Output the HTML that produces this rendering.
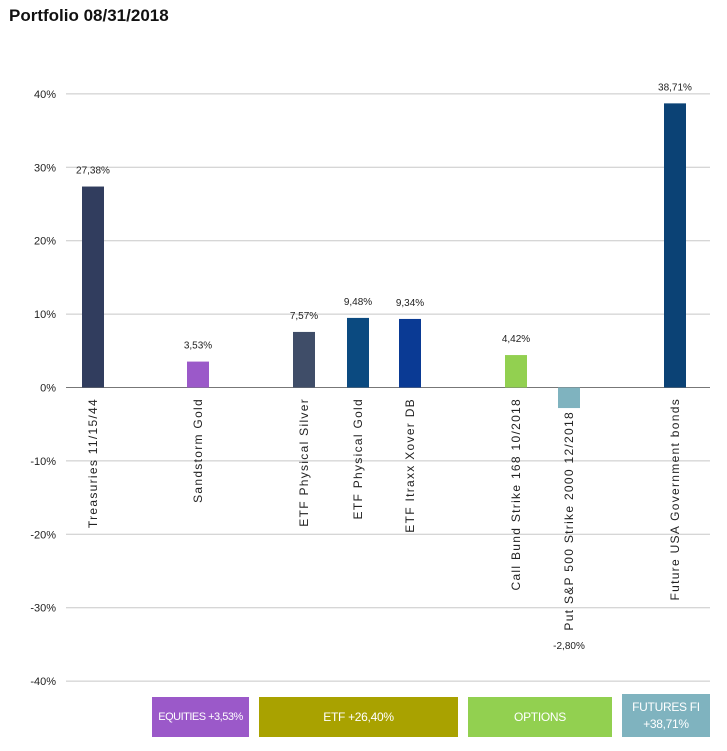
<!DOCTYPE html>
<html><head><meta charset="utf-8"><style>
body{margin:0;background:#fff;font-family:"Liberation Sans",sans-serif;}
#wrap{position:relative;width:727px;height:751px;overflow:hidden}
.title{position:absolute;left:9px;top:6px;font-size:17px;font-weight:bold;color:#111}
.box{position:absolute;color:#fff;font-size:12px;display:flex;align-items:center;justify-content:center;text-align:center;font-family:"Liberation Sans Narrow","Liberation Sans",sans-serif;line-height:17px;white-space:nowrap;letter-spacing:-0.3px}
</style></head><body>
<div id="wrap">
<div class="title">Portfolio 08/31/2018</div>
<svg id="chart" width="727" height="751" style="position:absolute;left:0;top:0"></svg>
<div class="box" style="left:152px;top:697px;width:97px;height:40px;background:#9b59c9;font-size:11px;letter-spacing:-0.5px">EQUITIES +3,53%</div>
<div class="box" style="left:259px;top:697px;width:199px;height:40px;background:#a9a200">ETF +26,40%</div>
<div class="box" style="left:468px;top:697px;width:144px;height:40px;background:#92d050">OPTIONS</div>
<div class="box" style="left:622px;top:694px;width:88px;height:43px;background:#7fb3bf">FUTURES FI<br>+38,71%</div>
</div>
<script>
const categories=["Treasuries 11/15/44","Sandstorm Gold","ETF Physical Silver","ETF Physical Gold","ETF Itraxx Xover DB","Call Bund Strike 168 10/2018","Put S&P 500 Strike 2000 12/2018","Future USA Government bonds"];
const values=[27.38,3.53,7.57,9.48,9.34,4.42,-2.80,38.71];
const valueLabels=["27,38%","3,53%","7,57%","9,48%","9,34%","4,42%","-2,80%","38,71%"];
const colors=["#313d5e","#9b59c9","#3f4d68","#0b4a80","#0a3a94","#92d050","#7fb3bf","#0b4275"];
const ticks=[40,30,20,10,0,-10,-20,-30,-40];
const tickLabels=["40%","30%","20%","10%","0%","-10%","-20%","-30%","-40%"];
const NS="http://www.w3.org/2000/svg";
const svg=document.getElementById('chart');
const y0=387.5, pxPer=7.34;
function y(v){return y0-v*pxPer;}
const barX=[93,198,304,358,410,516,569,675];
function x(i){return barX[i];}
function mk(t,a){const e=document.createElementNS(NS,t);for(const k in a)e.setAttribute(k,a[k]);svg.appendChild(e);return e;}
ticks.forEach((t,i)=>{
 const l=mk('line',{x1:66,x2:710,y1:y(t),y2:y(t),stroke:t===0?'#777':'#c8c8c8','stroke-width':1});
 
 
 const tx=mk('text',{x:56,y:y(t)+4,'text-anchor':'end','font-size':11,fill:'#222','font-family':'Liberation Sans Narrow, Liberation Sans, sans-serif'});
 tx.textContent=tickLabels[i];
 
 
});
values.forEach((v,i)=>{
 const top=Math.min(y(v),y(0)), h=Math.abs(y(v)-y(0));
 const r=mk('rect',{x:x(i)-11,y:top,width:22,height:h,fill:colors[i]});
 
 
 const ly=v>=0?y(v)-13:649;
 const t=mk('text',{x:x(i),y:ly,'text-anchor':'middle','font-size':10,fill:'#222','font-family':'Liberation Sans Narrow, Liberation Sans, sans-serif'});
 t.textContent=valueLabels[i];
 
 
 const c=mk('text',{x:0,y:0,'text-anchor':'end','font-size':12,'letter-spacing':'1.3',fill:'#222',transform:`translate(${x(i)+4},${v<0?y(v)+3:398}) rotate(-90)`});
 c.textContent=categories[i];
 
 
});
</script>
</body></html>
